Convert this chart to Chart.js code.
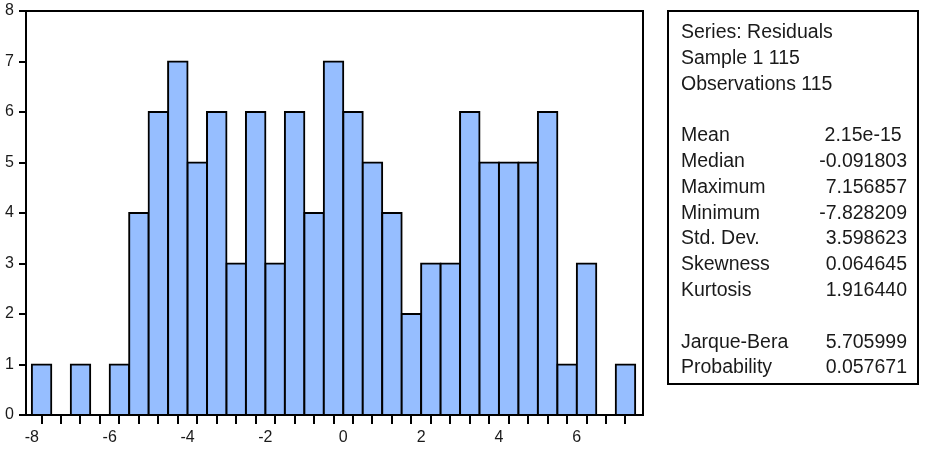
<!DOCTYPE html>
<html>
<head>
<meta charset="utf-8">
<script src="https://cdn.jsdelivr.net/npm/chart.js@4/dist/chart.umd.min.js"></script>
<style>
  html, body { margin: 0; padding: 0; background: #fff; }
  #wrap { position: relative; width: 930px; height: 465px; overflow: hidden; }
  #c { position: absolute; left: 0; top: 0; }
  #stats {
    position: absolute; left: 667px; top: 10px; width: 252px; height: 375px;
    box-sizing: border-box; border: 2px solid #000; padding: 7px 10px 0 12px;
    font-family: "Liberation Sans", Arial, sans-serif; font-size: 19.5px; color: #1a1a1a;
    line-height: 25.8px;
  }
  .row { display: flex; justify-content: space-between; white-space: nowrap; height: 25.8px; }
</style>
</head>
<body>
<div id="wrap">
  <canvas id="c" width="930" height="465"></canvas>
  <div id="stats"></div>
</div>
<script>
// Histogram bins (lower edges, width 0.5) and counts
const binStarts = [-8, -7.5, -7, -6.5, -6, -5.5, -5, -4.5, -4, -3.5, -3, -2.5, -2, -1.5, -1, -0.5,
                   0, 0.5, 1, 1.5, 2, 2.5, 3, 3.5, 4, 4.5, 5, 5.5, 6, 6.5, 7];
const binWidth = 0.5;
const counts = [1, 0, 1, 0, 1, 4, 6, 7, 5, 6, 3, 6, 3, 6, 4, 7,
                6, 5, 4, 2, 3, 3, 6, 5, 5, 5, 6, 1, 3, 0, 1];
const xTickLabels = [-8, -6, -4, -2, 0, 2, 4, 6];
const yTickLabels = [0, 1, 2, 3, 4, 5, 6, 7, 8];

// Statistics panel text
const statsHeader = ["Series: Residuals", "Sample 1 115", "Observations 115"];
const statNames = ["Mean", "Median", "Maximum", "Minimum", "Std. Dev.", "Skewness", "Kurtosis"];
const statValues = ["2.15e-15", "-0.091803", "7.156857", "-7.828209", "3.598623", "0.064645", "1.916440"];
const testNames = ["Jarque-Bera", "Probability"];
const testValues = ["5.705999", "0.057671"];

// Build stats panel
const st = document.getElementById('stats');
function addRow(l, r) {
  const d = document.createElement('div'); d.className = 'row';
  const a = document.createElement('span'); a.textContent = l;
  const b = document.createElement('span'); b.textContent = r || '';
  d.appendChild(a); d.appendChild(b); st.appendChild(d);
}
statsHeader.forEach(t => addRow(t, ''));
addRow('\u00a0', '');
statNames.forEach((n, i) => addRow(n, statValues[i] + (i === 0 ? '\u00a0' : '')));
addRow('\u00a0', '');
testNames.forEach((n, i) => addRow(n, testValues[i]));

const frame = {
  id: 'frame',
  afterDraw(chart) {
    const a = chart.chartArea, ctx = chart.ctx;
    ctx.save();
    ctx.strokeStyle = '#000';
    ctx.lineWidth = 2;
    ctx.strokeRect(a.left, a.top, a.right - a.left, a.bottom - a.top);
    ctx.restore();
  }
};

Chart.defaults.font.family = '"Liberation Sans", Arial, sans-serif';
Chart.defaults.color = '#1a1a1a';

const edgeTicks = binStarts.concat([binStarts[binStarts.length - 1] + binWidth]);

new Chart(document.getElementById('c'), {
  type: 'bar',
  data: {
    datasets: [{
      data: binStarts.map((s, i) => ({ x: s + binWidth / 2, y: counts[i] > 0 ? counts[i] : null })),
      backgroundColor: 'rgb(150,190,255)',
      borderColor: '#000',
      borderWidth: 2,
      inflateAmount: 1,
      barPercentage: 1,
      categoryPercentage: 1
    }]
  },
  options: {
    responsive: false,
    animation: false,
    layout: { padding: { left: 0, right: 287, top: 11, bottom: 0 } },
    plugins: { legend: { display: false }, tooltip: { enabled: false } },
    scales: {
      x: {
        type: 'linear',
        min: -8.15,
        max: 7.7,
        offset: false,
        afterFit(s) { s.height = 50; s.paddingLeft = 0; s.paddingRight = 0; },
        afterBuildTicks(s) {
          s.ticks = edgeTicks.map(v => ({ value: v }));
        },
        ticks: {
          autoSkip: false,
          maxRotation: 0,
          padding: 4,
          font: { size: 16 },
          callback(v) { return xTickLabels.some(t => Math.abs(t - v) < 1e-9) ? String(v) : ''; }
        },
        grid: { display: true, drawOnChartArea: false, drawTicks: true, tickLength: 9, color: '#000', lineWidth: 2 },
        border: { display: true, color: '#000', width: 2 }
      },
      y: {
        min: 0,
        max: 8,
        afterFit(s) { s.width = 26; s.paddingTop = 0; s.paddingBottom = 0; },
        afterBuildTicks(s) {
          s.ticks = yTickLabels.map(v => ({ value: v }));
        },
        ticks: {
          padding: 5,
          font: { size: 16 },
          callback(v) { return String(v); }
        },
        grid: { display: true, drawOnChartArea: false, drawTicks: true, tickLength: 7, color: '#000', lineWidth: 2 },
        border: { display: true, color: '#000', width: 2 }
      }
    }
  },
  plugins: [frame]
});
</script>
</body>
</html>
